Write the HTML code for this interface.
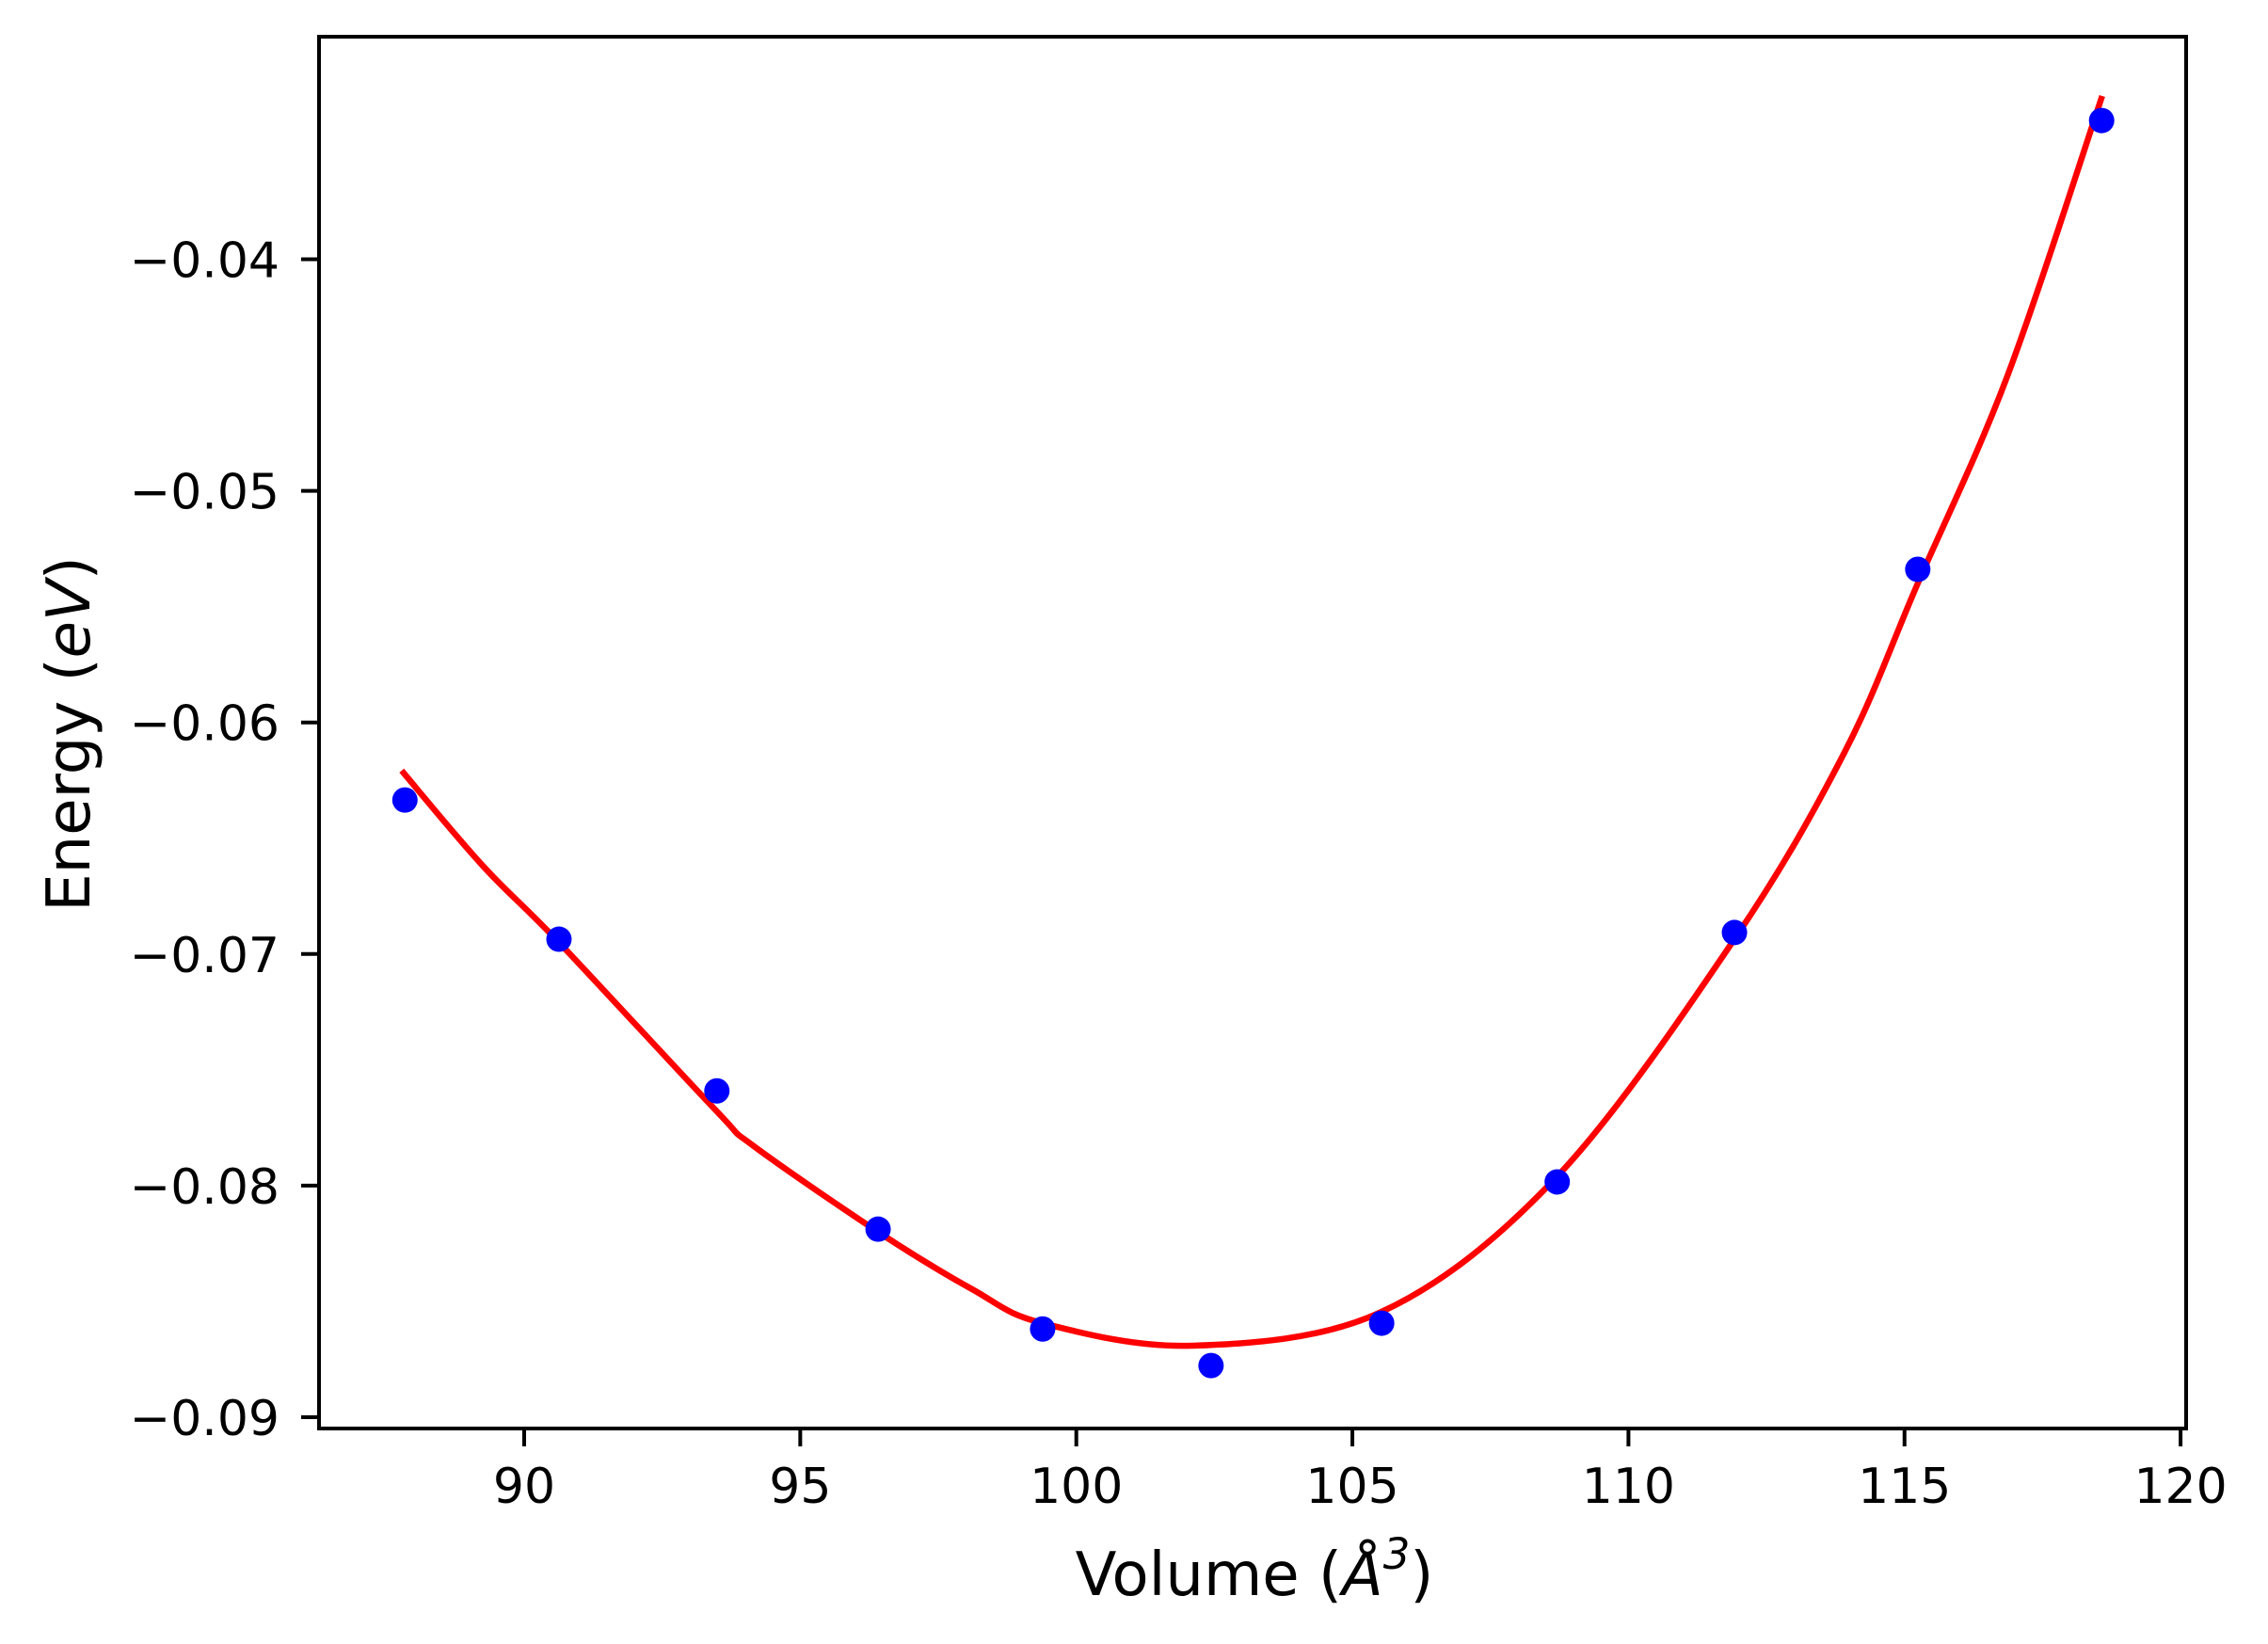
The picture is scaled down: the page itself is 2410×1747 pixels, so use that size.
<!DOCTYPE html>
<html><head><meta charset="utf-8"><style>
html,body{margin:0;padding:0;background:#fff;}
svg{display:block;font-family:"DejaVu Sans","Liberation Sans",sans-serif;}
</style></head><body>
<svg id="chart" width="2410" height="1747" viewBox="0 0 2410 1747" xmlns="http://www.w3.org/2000/svg">
<rect width="2410" height="1747" fill="#fff"/>
<g id="plot"></g>
</svg>
<script>
const volumes = [87.84, 90.63, 93.49, 96.41, 99.39, 102.44, 105.53, 108.71, 111.92, 115.24, 118.57];
const energies = [-0.06335, -0.06936, -0.07591, -0.08188, -0.08619, -0.08777, -0.08594, -0.07984, -0.06907, -0.05339, -0.03401];
const fitVolumes = [87.78, 89.25, 90.63, 93.49, 94.14, 96.41, 98.11, 99.39, 102.10, 105.53, 108.71, 111.92, 113.91, 115.24, 116.86, 118.58];
const fitEnergies = [-0.06208, -0.06619, -0.0695, -0.0768, -0.07826, -0.0820, -0.08447, -0.08594, -0.08691, -0.08545, -0.0796, -0.06936, -0.06131, -0.0540, -0.04506, -0.03295];
const xTicks = [90, 95, 100, 105, 110, 115, 120];
const yTicks = [-0.04, -0.05, -0.06, -0.07, -0.08, -0.09];

const L = 339, R = 2323, T = 39, B = 1518;
function xs(v){ return 557 + (v - 90) * 58.67; }
function ys(e){ return 275.5 + (-0.04 - e) * 24610; }

const NS = "http://www.w3.org/2000/svg";
const g = document.getElementById('plot');
function mk(tag, attrs, parent){
  const el = document.createElementNS(NS, tag);
  for (const k in attrs) el.setAttribute(k, attrs[k]);
  (parent || g).appendChild(el);
  return el;
}

// fit curve (centripetal-ish Catmull-Rom through fit points)
const pts = fitVolumes.map((v,i)=>[xs(v), ys(fitEnergies[i])]);
let d = "M" + pts[0][0].toFixed(1) + "," + pts[0][1].toFixed(1);
for (let i=0;i<pts.length-1;i++){
  const p0 = pts[Math.max(0,i-1)], p1 = pts[i], p2 = pts[i+1], p3 = pts[Math.min(pts.length-1,i+2)];
  const c1 = [p1[0]+(p2[0]-p0[0])/6, p1[1]+(p2[1]-p0[1])/6];
  const c2 = [p2[0]-(p3[0]-p1[0])/6, p2[1]-(p3[1]-p1[1])/6];
  d += " C"+c1[0].toFixed(1)+","+c1[1].toFixed(1)+" "+c2[0].toFixed(1)+","+c2[1].toFixed(1)+" "+p2[0].toFixed(1)+","+p2[1].toFixed(1);
}
const curve = mk('path', {d:d, fill:'none', stroke:'#ff0000', 'stroke-width':6.5});



// points
volumes.forEach((v,i)=>{
  const c = mk('circle', {cx:xs(v), cy:ys(energies[i]), r:13.5, fill:'#0000ff'});
  
  
});

// frame
const frame = mk('rect', {x:L, y:T, width:R-L, height:B-T, fill:'none', stroke:'#000', 'stroke-width':4});



// x ticks
xTicks.forEach(t=>{
  const x = xs(t);
  const tk = mk('line', {x1:x, y1:B, x2:x, y2:B+19, stroke:'#000', 'stroke-width':4});
  
  
  const tx = mk('text', {x:x, y:1597, 'font-size':52, 'text-anchor':'middle', fill:'#000'});
  tx.textContent = String(t);
  
  
});
// y ticks
yTicks.forEach(t=>{
  const y = ys(t);
  const tk = mk('line', {x1:L, y1:y, x2:L-19, y2:y, stroke:'#000', 'stroke-width':4});
  
  
  const tx = mk('text', {x:297, y:y+19, 'font-size':52, 'text-anchor':'end', fill:'#000'});
  tx.textContent = "\u2212" + Math.abs(t).toFixed(2);
  
  
});

// axis titles
const xt = mk('text', {x:1333, y:1695, 'font-size':64, 'text-anchor':'middle', fill:'#000'});
xt.innerHTML = 'Volume (<tspan font-style="italic">Å</tspan><tspan font-size="45" dy="-28" font-style="italic">3</tspan><tspan dy="28">)</tspan>';


const yt = mk('text', {x:0, y:0, 'font-size':64, 'text-anchor':'middle', fill:'#000', transform:'translate(95,780) rotate(-90)'});
yt.innerHTML = 'Energy (<tspan font-style="italic">eV</tspan>)';


</script>
</body></html>
